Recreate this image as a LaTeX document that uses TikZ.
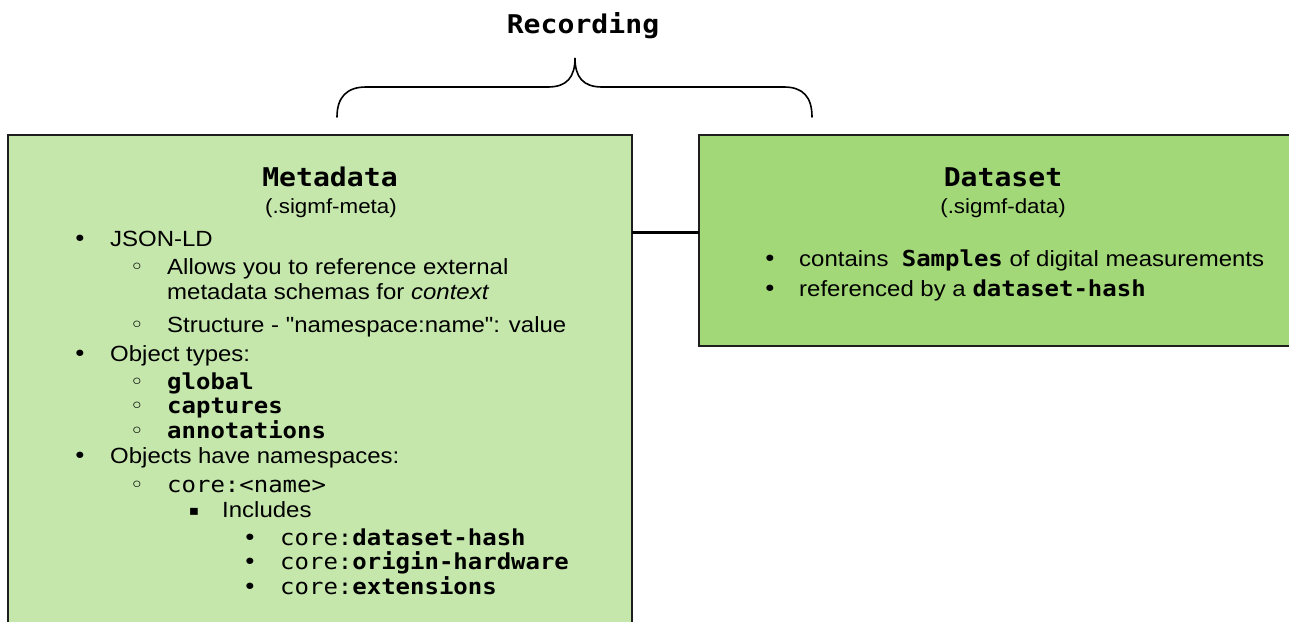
\documentclass[tikz,border=0pt]{standalone}
\usepackage{fontspec}
\setmainfont{Liberation Sans}[FakeStretch=1.09, Ligatures=TeXOff]
\newfontfamily\monof{DejaVu Sans Mono}[FakeStretch=1.09]
\newfontfamily\symf{DejaVu Sans}[FakeStretch=1.09]
\definecolor{metafill}{RGB}{197,231,172}
\definecolor{datafill}{RGB}{163,216,121}
\definecolor{edge}{RGB}{30,30,30}
\newcommand{\bodysize}{\fontsize{22}{25}\selectfont}
\newcommand{\titlesize}{\fontsize{25.8}{28}\selectfont}
\newcommand{\cb}[1]{{\monof\bfseries #1}}
\newcommand{\cm}[1]{{\monof #1}}
\tikzset{
  filebox/.style={draw=edge, line width=2pt, rectangle, inner sep=0pt, outer sep=0pt, anchor=north west},
  link/.style={draw=black, line width=3pt},
  bracket/.style={draw=black, line width=1.6pt, line cap=round},
  heading/.style={anchor=base, inner sep=0pt, font=\titlesize\monof\bfseries},
  subhead/.style={anchor=base, inner sep=0pt, font=\fontsize{20.5}{24}\selectfont},
  item/.style={anchor=base west, inner sep=0pt, font=\bodysize},
  dot/.style={anchor=base, inner sep=0pt, font=\bodysize\symf},
  sqdot/.style={anchor=base, inner sep=0pt, font=\fontsize{14}{16}\selectfont\symf},
}
\begin{document}
\begin{tikzpicture}[x=1pt, y=-1pt]
\useasboundingbox (0,0) rectangle (1289,621);
\clip (0,0) rectangle (1289,621);

% the two files of a recording
\node[filebox, fill=metafill, minimum width=624pt, minimum height=600pt] (meta) at (8,135) {};
\node[filebox, fill=datafill, minimum width=640pt, minimum height=211pt] (data) at (699,135) {};
\draw[link] (meta.east |- 0,232) -- (data.west |- 0,232);

% brace grouping both files
\node[heading] (rec) at (583,33) {Recording};
\coordinate (bl) at (337,117);
\coordinate (br) at (812,117);
\coordinate (tip) at (575,58);
\draw[bracket] (bl) .. controls (337,97) and (347,87) .. (366,87) -- (548,87)
  .. controls (567,87) and (575,77) .. (tip)
  .. controls (575,77) and (583,87) .. (602,87) -- (784,87)
  .. controls (803,87) and (812,97) .. (br);

% metadata contents
\node[heading] (mt) at (330,186) {Metadata};
\node[subhead] (ms) at (331,213) {(.sigmf-meta)};

\node[dot] at (80,246) {•};
\node[item] (l1) at (110,246) {JSON-LD};
\node[dot] at (137,274) {◦};
\node[item] (l2) at (167,274) {Allows you to reference external};
\node[item] (l3) at (167,299) {metadata schemas for \textit{context}};
\node[dot] at (137,332) {◦};
\node[item] (l4) at (167,332) {Structure - "namespace:name": value};
\node[dot] at (80,361) {•};
\node[item] (l5) at (110,361) {Object types:};
\node[dot] at (137,389) {◦};
\node[item] (l6) at (167,389) {\cb{global}};
\node[dot] at (137,413) {◦};
\node[item] (l7) at (167,413) {\cb{captures}};
\node[dot] at (137,438) {◦};
\node[item] (l8) at (167,438) {\cb{annotations}};
\node[dot] at (80,463) {•};
\node[item] (l9) at (110,463) {Objects have namespaces:};
\node[dot] at (137,492) {◦};
\node[item] (l10) at (167,492) {\cm{core:<name>}};
\node[sqdot] at (194,515) {▪};
\node[item] (l11) at (222,517) {Includes};
\node[dot] at (250,545) {•};
\node[item] (l12) at (280,545) {\cm{core:}\cb{dataset-hash}};
\node[dot] at (250,569) {•};
\node[item] (l13) at (280,569) {\cm{core:}\cb{origin-hardware}};
\node[dot] at (250,594) {•};
\node[item] (l14) at (280,594) {\cm{core:}\cb{extensions}};

% dataset contents
\node[heading] (dt) at (1003,186) {Dataset};
\node[subhead] (ds) at (1003,213) {(.sigmf-data)};
\node[dot] at (770,266) {•};
\node[item] (d1) at (799,266) {contains\ \ \cb{Samples} of digital measurements};
\node[dot] at (770,296) {•};
\node[item] (d2) at (799,296) {referenced by a \cb{dataset-hash}};
\end{tikzpicture}
\end{document}
